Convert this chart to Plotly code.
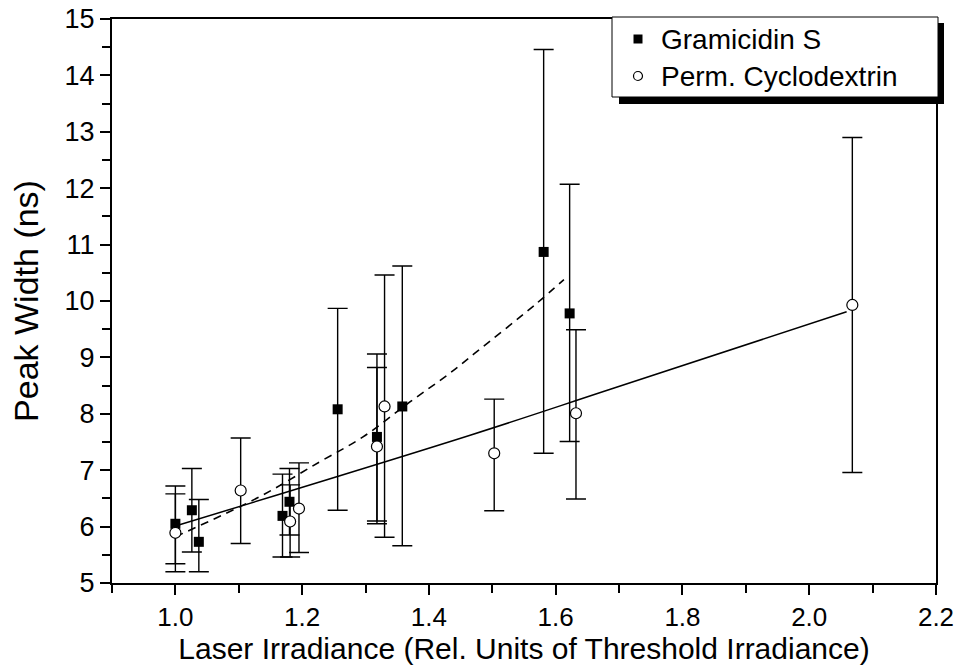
import plotly.graph_objects as go

# Gramicidin S (filled squares)
gram_x = [1.000, 1.026, 1.037, 1.169, 1.180, 1.256, 1.318, 1.358, 1.581, 1.622]
gram_y = [6.05, 6.29, 5.73, 6.19, 6.44, 8.08, 7.59, 8.13, 10.87, 9.78]
gram_hi = [6.72, 7.03, 6.48, 6.93, 7.03, 9.87, 9.06, 10.62, 14.46, 12.07]
gram_lo = [5.34, 5.55, 5.20, 5.46, 5.85, 6.29, 6.10, 5.66, 7.30, 7.51]

# Perm. Cyclodextrin (open circles)
cyc_x = [1.000, 1.103, 1.181, 1.195, 1.318, 1.330, 1.503, 1.632, 2.068]
cyc_y = [5.89, 6.64, 6.09, 6.32, 7.42, 8.13, 7.30, 8.01, 9.93]
cyc_hi = [6.58, 7.57, 6.74, 7.13, 8.82, 10.46, 8.26, 9.49, 12.90]
cyc_lo = [5.20, 5.70, 5.46, 5.54, 6.05, 5.81, 6.28, 6.49, 6.96]

# fitted curves
gfit_x = [1.000, 1.133, 1.228, 1.296, 1.370, 1.433, 1.472, 1.567, 1.613]
gfit_y = [5.82, 6.53, 7.15, 7.59, 8.21, 8.72, 9.07, 9.93, 10.38]
cfit_x = [1.000, 1.465, 1.685, 2.059]
cfit_y = [6.01, 7.62, 8.43, 9.81]

x_ticks = [1.0, 1.2, 1.4, 1.6, 1.8, 2.0, 2.2]
y_ticks = list(range(5, 16))
series_names = ["Gramicidin S", "Perm. Cyclodextrin"]

FONT = "Arial, 'Liberation Sans', sans-serif"

# plot-area geometry in pixels (for legend decoration placement)
L, R, T, B, W, H = 112, 21, 19, 82, 957, 665
PW, PH = W - L - R, H - T - B
def xp(px):
    return (px - L) / PW
def yp(py):
    return (H - B - py) / PH

def err(y, hi, lo):
    return [h - v for h, v in zip(hi, y)], [v - l for v, l in zip(y, lo)]

g_up, g_dn = err(gram_y, gram_hi, gram_lo)
c_up, c_dn = err(cyc_y, cyc_hi, cyc_lo)

fig = go.Figure()

fig.add_trace(go.Scatter(x=gfit_x, y=gfit_y, mode="lines", line_shape="spline",
                         line=dict(color="black", width=1.6, dash="8px,6px"),
                         showlegend=False, hoverinfo="skip"))
fig.add_trace(go.Scatter(x=cfit_x, y=cfit_y, mode="lines", line_shape="spline",
                         line=dict(color="black", width=1.5),
                         showlegend=False, hoverinfo="skip"))

fig.add_trace(go.Scatter(
    x=gram_x, y=gram_y, mode="markers", name=series_names[0], showlegend=False,
    marker=dict(symbol="square", size=10, color="black"),
    error_y=dict(type="data", symmetric=False, array=g_up, arrayminus=g_dn,
                 color="black", thickness=1.4, width=10)))
fig.add_trace(go.Scatter(
    x=cyc_x, y=cyc_y, mode="markers", name=series_names[1], showlegend=False,
    marker=dict(symbol="circle", size=11, color="white",
                line=dict(color="black", width=1.2)),
    error_y=dict(type="data", symmetric=False, array=c_up, arrayminus=c_dn,
                 color="black", thickness=1.4, width=10)))

# legend (box with drop shadow)
row1, row2 = 39, 76
shapes = [
    dict(type="rect", xref="paper", yref="paper", x0=xp(619), x1=xp(944), y0=yp(104), y1=yp(97),
         fillcolor="black", line_width=0, layer="above"),
    dict(type="rect", xref="paper", yref="paper", x0=xp(938), x1=xp(944), y0=yp(104), y1=yp(23),
         fillcolor="black", line_width=0, layer="above"),
    dict(type="rect", xref="paper", yref="paper", x0=xp(612), x1=xp(938), y0=yp(97), y1=yp(17),
         fillcolor="white", line=dict(color="black", width=1), layer="above"),
    dict(type="rect", xref="paper", yref="paper", xsizemode="pixel", ysizemode="pixel",
         xanchor=xp(638), yanchor=yp(row1), x0=-4.5, x1=4.5, y0=-4.5, y1=4.5,
         fillcolor="black", line_width=0, layer="above"),
    dict(type="circle", xref="paper", yref="paper", xsizemode="pixel", ysizemode="pixel",
         xanchor=xp(638), yanchor=yp(row2), x0=-4.5, x1=4.5, y0=-4.5, y1=4.5,
         fillcolor="white", line=dict(color="black", width=1.2), layer="above"),
]
annotations = [
    dict(text=series_names[0], xref="paper", yref="paper", x=xp(659), y=yp(row1),
         xanchor="left", yanchor="middle", showarrow=False, font=dict(size=28, family=FONT)),
    dict(text=series_names[1], xref="paper", yref="paper", x=xp(659), y=yp(row2),
         xanchor="left", yanchor="middle", showarrow=False, font=dict(size=28, family=FONT)),
]

fig.update_layout(
    width=W, height=H,
    margin=dict(l=L, r=R, t=T, b=B, autoexpand=False),
    paper_bgcolor="white", plot_bgcolor="white",
    font=dict(family=FONT, color="black", size=26),
    showlegend=False,
    shapes=shapes, annotations=annotations,
    xaxis=dict(range=[0.9, 2.2], tickvals=x_ticks, ticktext=[f"{v:.1f}" for v in x_ticks],
               showgrid=False, zeroline=False, showline=True, linecolor="black",
               linewidth=2, mirror=True, ticks="outside", ticklen=10, tickwidth=2,
               tickcolor="black", tickfont=dict(size=26),
               minor=dict(dtick=0.1, tick0=0.9, ticks="outside", ticklen=8, tickwidth=2, tickcolor="black"),
               title=dict(text="Laser Irradiance (Rel. Units of Threshold Irradiance)",
                          font=dict(size=30), standoff=4)),
    yaxis=dict(range=[5, 15], tickvals=y_ticks, showgrid=False, zeroline=False,
               showline=True, linecolor="black", linewidth=2, mirror=True,
               ticks="outside", ticklen=10, tickwidth=2, tickcolor="black",
               tickfont=dict(size=27),
               minor=dict(dtick=0.5, tick0=5, ticks="outside", ticklen=8, tickwidth=2, tickcolor="black"),
               title=dict(text="Peak Width (ns)", font=dict(size=34), standoff=16)),
)

fig.write_html("out.html")
